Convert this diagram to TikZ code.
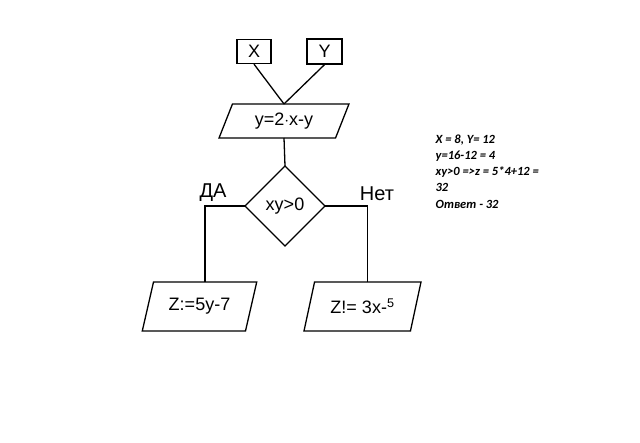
\documentclass[tikz,border=0pt]{standalone}
\usepackage{fontspec}
\setmainfont{Liberation Sans}
\newfontfamily\notefont{Carlito}
\usetikzlibrary{shapes.geometric}

\begin{document}
\begin{tikzpicture}[x=1pt, y=-1pt, line width=1.3pt,
  hand/.style={font=\fontsize{18}{20}\selectfont},
  varbox/.style={draw, hand, minimum width=34pt, minimum height=24pt, inner sep=0pt},
  iobox/.style={draw, hand, trapezium, trapezium left angle=65, trapezium right angle=115,
    trapezium stretches=true, inner sep=0pt, outer sep=0pt},
  testbox/.style={draw, hand, diamond, aspect=1, minimum width=80pt, minimum height=80pt,
    inner sep=0pt, outer sep=0pt}]

% page frame (640 x 443)
\useasboundingbox (0,0) rectangle (640,443);

% --- Inputs ---
\node[varbox] (x) at (254,51.5) {X};
\node[varbox, minimum width=35pt, minimum height=25pt] (y) at (324.5,51.5) {Y};

% --- Assignment ---
\node[iobox, minimum width=130pt, minimum height=34pt] (expr) at (284,121) {y=2$\cdot$x-y};
\draw (x.south) -- (expr.north);
\draw (y.south) -- (expr.north);

% --- Condition ---
\node[testbox] (cond) at (285,206) {xy>0};
\draw (expr.south) -- (cond.north);

% --- Branches ---
\node[iobox, minimum width=115pt, minimum height=49pt] (zyes) at (199.5,306.5) {Z:=5y-7};
\node[iobox, minimum width=117pt, minimum height=49pt] (zno) at (362.5,306.5) {Z!= 3x-\textsuperscript{5}};

\draw (cond.west) -| (zyes.top side);
\draw (cond.east) -| (zno.top side);

\node[hand, font=\fontsize{20}{22}\selectfont] (yes) at (213,193) {ДА};
\node[hand, font=\fontsize{20}{22}\selectfont] (no) at (377,194) {Нет};

% --- Worked answer ---
\node[anchor=north west, align=left, inner sep=0pt,
  font=\notefont\bfseries\itshape\fontsize{12.5}{16.2}\selectfont] (note) at (435,134)
  {X = 8, Y= 12\\ y=16-12 = 4\\ xy>0 =>z = 5*4+12 =\\ 32\\ Ответ - 32};

\end{tikzpicture}
\end{document}
